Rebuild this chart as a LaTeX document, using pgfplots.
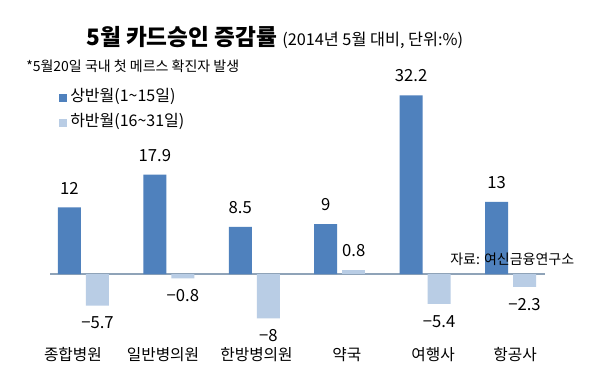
\documentclass[border=0pt]{standalone}
\usepackage{fontspec}
\setmainfont{Noto Sans CJK KR}
\usepackage{pgfplots}
\pgfplotsset{compat=1.18}
\definecolor{darkbar}{HTML}{4F81BD}
\definecolor{lightbar}{HTML}{B9CDE5}
\definecolor{zeroline}{HTML}{8FA3B8}
\newcommand{\fs}[1]{\fontsize{#1}{#1}\selectfont}
\begin{document}
\begin{tikzpicture}
\begin{scope}[x=0.75pt,y=-0.75pt]
\path[use as bounding box, fill=white] (0,0) rectangle (600,380);
\node[anchor=base west, inner sep=0, font=\bfseries\fs{17pt}] at (86,45) {5월 카드승인 증감률};
\node[anchor=base west, inner sep=0, font=\fs{12.2pt}] at (282,45) {(2014년 5월 대비, 단위:\%)};
\node[anchor=base west, inner sep=0, font=\fs{10.5pt}] at (26,71.5) {*5월20일 국내 첫 메르스 확진자 발생};
\fill[darkbar] (59,94) rectangle (67,102);
\node[anchor=base west, inner sep=0, font=\fs{12pt}] at (70,101.5) {상반월(1\textasciitilde15일)};
\fill[lightbar] (59,119) rectangle (67,127);
\node[anchor=base west, inner sep=0, font=\fs{12pt}] at (70,126.5) {하반월(16\textasciitilde31일)};
\end{scope}
\begin{axis}[
  at={(37.5pt,-255.45pt)}, anchor=south west,
  scale only axis, width=371.25pt, height=187.3pt,
  xmin=-0.392, xmax=5.404, ymin=-12, ymax=33,
  axis line style={draw=none}, ytick=\empty,
  xtick={-0.123,0.931,2.026,3.085,4.093,5.053},
  xticklabels={종합병원,일반병의원,한방병의원,약국,여행사,항공사},
  major tick length=0pt,
  xticklabel style={font=\fs{11.8pt}, yshift=-1.5pt},
  ybar, bar width=17.25pt, clip=false,
  nodes near coords, point meta=explicit symbolic,
  every node near coord/.append style={font=\fs{12.5pt}, inner sep=9.7pt},
]
\draw[zeroline, line width=0.9pt] (axis cs:-0.392,0) -- (axis cs:5.404,0);
\addplot[fill=darkbar, draw=none, bar shift=-10.5pt] coordinates {
  (0,12) [12] (1,17.9) [17.9] (2,8.5) [8.5] (3,9) [9] (4,32.2) [32.2] (5,13) [13]
};
\addplot[fill=lightbar, draw=none, bar shift=10.5pt,
  every node near coord/.append style={anchor=north, inner sep=8.2pt}] coordinates {
  (0,-5.7) [−5.7] (1,-0.8) [−0.8] (2,-8) [−8] (4,-5.4) [−5.4] (5,-2.3) [−2.3]
};
\addplot[fill=lightbar, draw=none, bar shift=10.5pt] coordinates {
  (3,0.8) [0.8]
};
\end{axis}
\begin{scope}[x=0.75pt,y=-0.75pt]
\node[anchor=west, inner sep=0, font=\fs{10.5pt}] at (450,259) {자료: 여신금융연구소};
\end{scope}
\end{tikzpicture}
\end{document}
